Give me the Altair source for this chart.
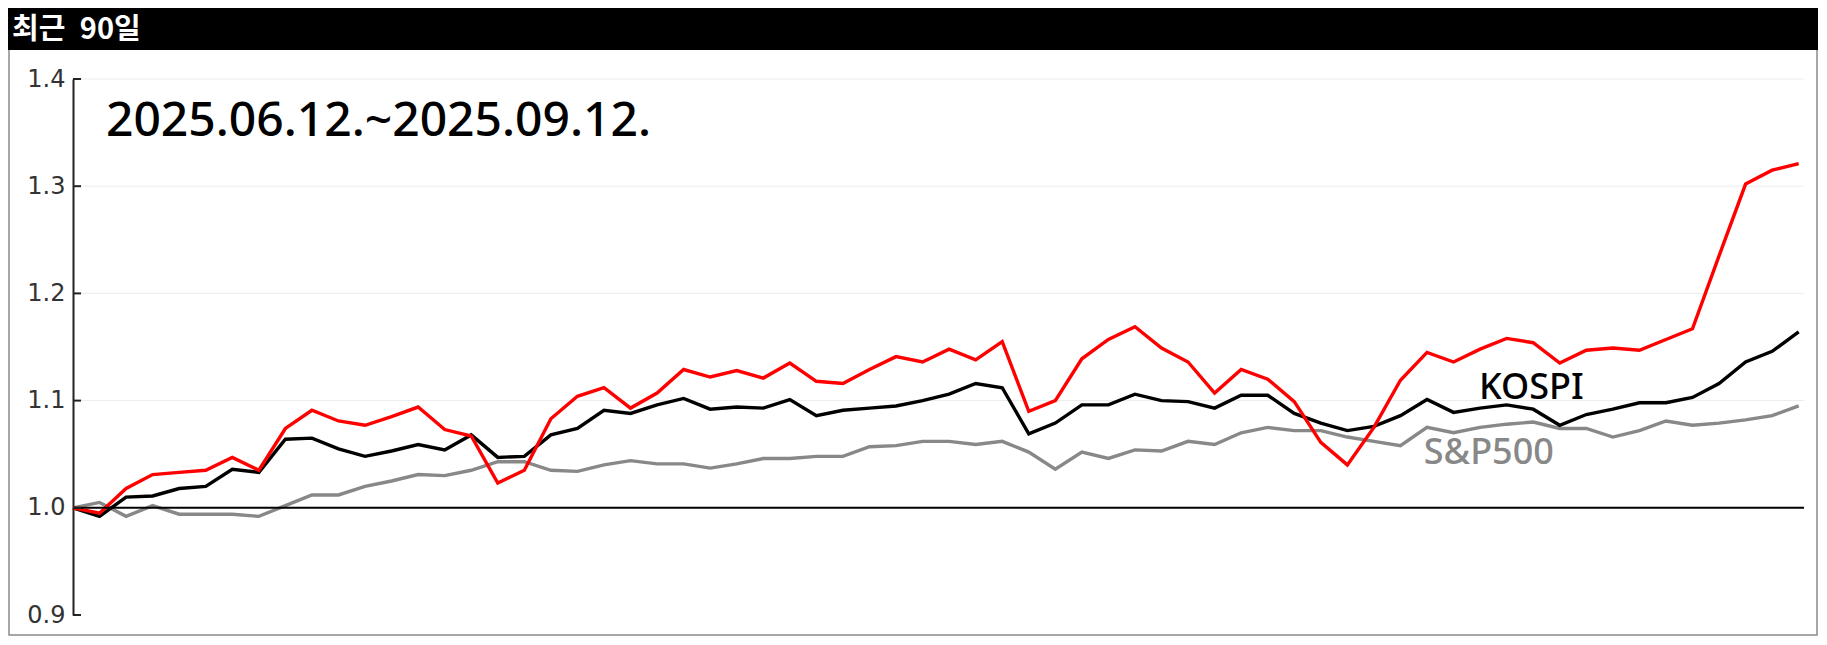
import altair as alt
import pandas as pd

# ---- data ----
red = [1.000, 0.995, 1.018, 1.031, 1.033, 1.035, 1.047, 1.035, 1.074, 1.091,
       1.081, 1.077, 1.085, 1.094, 1.073, 1.067, 1.023, 1.035, 1.083, 1.104,
       1.112, 1.093, 1.107, 1.129, 1.122, 1.128, 1.121, 1.135, 1.118, 1.116,
       1.129, 1.141, 1.136, 1.148, 1.138, 1.155, 1.090, 1.100, 1.139, 1.157,
       1.169, 1.149, 1.136, 1.107, 1.129, 1.120, 1.099, 1.061, 1.040, 1.075,
       1.119, 1.145, 1.136, 1.148, 1.158, 1.154, 1.135, 1.147, 1.149, 1.147,
       1.157, 1.167, 1.235, 1.302, 1.315, 1.321]
kospi = [1.000, 0.992, 1.010, 1.011, 1.018, 1.020, 1.036, 1.033, 1.064, 1.065,
         1.055, 1.048, 1.053, 1.059, 1.054, 1.068, 1.047, 1.048, 1.068, 1.074,
         1.091, 1.088, 1.096, 1.102, 1.092, 1.094, 1.093, 1.101, 1.086, 1.091,
         1.093, 1.095, 1.100, 1.106, 1.116, 1.112, 1.069, 1.079, 1.096, 1.096,
         1.106, 1.100, 1.099, 1.093, 1.105, 1.105, 1.088, 1.079, 1.072, 1.076,
         1.086, 1.101, 1.089, 1.093, 1.096, 1.092, 1.077, 1.087, 1.092, 1.098,
         1.098, 1.103, 1.116, 1.136, 1.146, 1.164]
sp500 = [1.000, 1.005, 0.992, 1.002, 0.994, 0.994, 0.994, 0.992, 1.002, 1.012,
         1.012, 1.020, 1.025, 1.031, 1.030, 1.035, 1.043, 1.043, 1.035, 1.034,
         1.040, 1.044, 1.041, 1.041, 1.037, 1.041, 1.046, 1.046, 1.048, 1.048,
         1.057, 1.058, 1.062, 1.062, 1.059, 1.062, 1.052, 1.036, 1.052, 1.046,
         1.054, 1.053, 1.062, 1.059, 1.070, 1.075, 1.072, 1.072, 1.066, 1.062,
         1.058, 1.075, 1.070, 1.075, 1.078, 1.080, 1.074, 1.074, 1.066, 1.072,
         1.081, 1.077, 1.079, 1.082, 1.086, 1.095]
series_names = ["S&P500", "KOSPI", "RED"]
series_colors = ["#888888", "#000000", "#ff0000"]
y_ticks = [0.9, 1.0, 1.1, 1.2, 1.3, 1.4]
grid_ticks = [1.1, 1.2, 1.3, 1.4]
title_text = "최근\u200290일"
period_text = "2025.06.12.~2025.09.12."

# ---- tables ----
rows = []
for name, vals in zip(series_names, [sp500, kospi, red]):
    for i, v in enumerate(vals):
        rows.append({"day": i, "value": v, "series": name})
df = pd.DataFrame(rows)

n = len(red)
W_PLOT = 1731
H_PLOT = 536
PAD_L, PAD_T, PAD_R, PAD_B = 65, 71, 14, 21

xscale = alt.Scale(domain=[0, n - 1 + 0.2], nice=False, zero=False)
yscale = alt.Scale(domain=[0.9, 1.4], nice=False, zero=False)

yaxis = alt.Axis(values=y_ticks, format=".1f", title=None, ticks=False,
                 grid=False, domainColor="#222222", domainWidth=2,
                 labelFont="DejaVu Sans", labelFontSize=24, labelColor="#333333",
                 labelPadding=8)


def Y(field):
    return alt.Y(field, scale=yscale, axis=yaxis)


def X(field):
    return alt.X(field, scale=xscale, axis=None)


# light gridlines
grid = alt.Chart(pd.DataFrame({"y": grid_ticks})).mark_rule(color="#ececec", strokeWidth=1).encode(
    y=Y("y:Q")
)

# series drawn separately so red is on top
layers_lines = []
for name, col in zip(series_names, series_colors):
    layers_lines.append(
        alt.Chart(df[df.series == name]).mark_line(strokeWidth=3.4, color=col).encode(
            x=X("day:Q"), y=Y("value:Q"),
        )
    )

# baseline at 1.0
base = alt.Chart(pd.DataFrame({"y": [1.0]})).mark_rule(color="#000000", strokeWidth=2).encode(
    y=Y("y:Q")
)

# inward ticks on the y axis
ticks = alt.Chart(pd.DataFrame({"y": y_ticks})).mark_rule(color="#222222", strokeWidth=2).encode(
    y=Y("y:Q"), x=alt.value(0), x2=alt.value(8)
)

one = pd.DataFrame({"a": [0]})
# header bar
bar = alt.Chart(one).mark_rect(color="#000000").encode(
    x=alt.value(-PAD_L), x2=alt.value(W_PLOT + PAD_R), y=alt.value(-PAD_T), y2=alt.value(-29)
)
header = alt.Chart(pd.DataFrame({"t": [title_text]})).mark_text(
    color="#ffffff", font="Noto Sans CJK KR", fontWeight="bold", fontSize=29,
    align="left", baseline="middle"
).encode(text="t:N", x=alt.value(-61), y=alt.value(-49))

frame = alt.Chart(one).mark_rect(fillOpacity=0, stroke="#8a8a8a", strokeWidth=1.5).encode(
    x=alt.value(-PAD_L + 1), x2=alt.value(W_PLOT + PAD_R - 1),
    y=alt.value(-PAD_T + 1), y2=alt.value(H_PLOT + PAD_B - 1)
)

# annotations placed in data coordinates
ann = pd.DataFrame({
    "t": [period_text, "KOSPI", "S&P500"],
    "day": [1.24, 52.96, 50.88],
    "value": [1.347, 1.1016, 1.0408],
    "c": ["#000000", "#000000", "#888888"],
    "s": [48, 36, 36],
})
ann_layers = []
for _, r in ann.iterrows():
    ann_layers.append(
        alt.Chart(pd.DataFrame([r])).mark_text(
            align="left", baseline="alphabetic", font="Noto Sans",
            fontWeight=500, fontSize=int(r["s"]), color=r["c"]
        ).encode(
            x=X("day:Q"), y=Y("value:Q"), text="t:N",
        )
    )

chart = alt.layer(
    frame, bar, header, grid, *layers_lines, base, ticks, *ann_layers
).properties(
    width=W_PLOT, height=H_PLOT,
    padding={"left": PAD_L, "top": PAD_T, "right": PAD_R, "bottom": PAD_B},
    autosize=alt.AutoSizeParams(type="none"),
    background="#ffffff",
).configure_view(strokeWidth=0)

chart.save("out.html", embed_options={"renderer": "svg", "actions": False})
